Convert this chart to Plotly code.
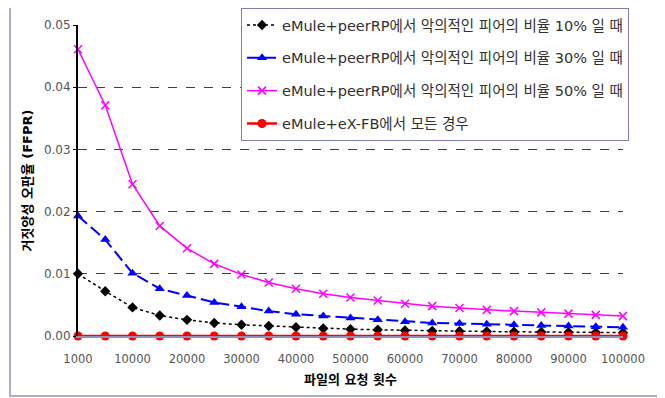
import plotly.graph_objects as go

requests = ["1000", "5000", "10000", "15000", "20000", "25000", "30000", "35000",
            "40000", "45000", "50000", "55000", "60000", "65000", "70000", "75000",
            "80000", "85000", "90000", "95000", "100000"]
tick_labels = ["1000", "10000", "20000", "30000", "40000", "50000",
               "60000", "70000", "80000", "90000", "100000"]

names = [
    "eMule+peerRP에서 악의적인 피어의 비율 10% 일 때",
    "eMule+peerRP에서 악의적인 피어의 비율 30% 일 때",
    "eMule+peerRP에서 악의적인 피어의 비율 50% 일 때",
    "eMule+eX-FB에서 모든 경우",
]
ffpr_10 = [0.0100, 0.0072, 0.0046, 0.0033, 0.0026, 0.0021, 0.0018, 0.0016,
           0.0014, 0.0012, 0.0011, 0.0010, 0.0009, 0.00082, 0.00077, 0.00072,
           0.00068, 0.00064, 0.00060, 0.00057, 0.00054]
ffpr_30 = [0.0193, 0.0155, 0.0101, 0.0076, 0.0065, 0.0054, 0.0047, 0.0040,
           0.0035, 0.0032, 0.0029, 0.0026, 0.0023, 0.0021, 0.0020, 0.0019,
           0.0018, 0.0017, 0.0016, 0.0015, 0.0014]
ffpr_50 = [0.0461, 0.0371, 0.0244, 0.0177, 0.0141, 0.0116, 0.0099, 0.0086,
           0.0076, 0.0068, 0.0062, 0.0057, 0.0052, 0.0048, 0.0045, 0.0042,
           0.0040, 0.0038, 0.0036, 0.0034, 0.0032]
ffpr_exfb = [0.0] * 21

series = [ffpr_10, ffpr_30, ffpr_50, ffpr_exfb]
styles = [
    dict(color="#000000", dash="dot", symbol="diamond", size=8, width=1.5),
    dict(color="#0000ff", dash="12px,5px", symbol="triangle-up", size=9, width=2),
    dict(color="#ff00ff", dash="solid", symbol="x-thin", size=8, width=1.5),
    dict(color="#ff0000", dash="solid", symbol="circle", size=9, width=2.5),
]

font_family = "DejaVu Sans, Noto Sans CJK KR, sans-serif"

fig = go.Figure()
for i, (name, vals, st) in enumerate(zip(names, series, styles)):
    marker = dict(symbol=st["symbol"], size=st["size"], color=st["color"])
    if st["symbol"] == "x-thin":
        marker["line"] = dict(color=st["color"], width=1.5)
    fig.add_trace(go.Scatter(
        x=requests, y=vals, name=name, mode="lines+markers",
        line=dict(color=st["color"], dash=st["dash"], width=st["width"]),
        marker=marker, cliponaxis=False, legendgroup=f"g{i}",
    ))

# page body has an 8px margin; figure is sized/offset to compensate
OFF = 8
W, H = 665 - OFF, 398 - OFF
L, R, T, B = 78 - OFF, 42, 25 - OFF, 62
pw, ph = W - L - R, H - T - B

def px_x(p):
    return (p - OFF - L) / pw

def px_y(p):
    return (H - B - (p - OFF)) / ph

fig.add_shape(type="rect", xref="paper", yref="paper",
              x0=px_x(10), x1=px_x(659), y0=px_y(396), y1=px_y(6),
              line=dict(color="#9494c0", width=1.5), fillcolor="rgba(0,0,0,0)",
              layer="below")

fig.update_layout(
    width=W, height=H,
    margin=dict(l=L, r=R, t=T, b=B, autoexpand=False),
    paper_bgcolor="white", plot_bgcolor="white",
    font=dict(family=font_family, size=12, color="#000000"),
    showlegend=True,
    legend=dict(
        x=px_x(629), xanchor="right", y=px_y(8), yanchor="top",
        bgcolor="white", bordercolor="#8080b0", borderwidth=1,
        font=dict(size=14.5, color="#303030"),
        tracegroupgap=11, traceorder="grouped",
    ),
    xaxis=dict(
        type="category", range=[0, 20],
        tickmode="array", tickvals=tick_labels, ticktext=tick_labels,
        showgrid=False, zeroline=False,
        showline=True, linecolor="#9090b8", linewidth=2,
        ticks="", ticklabelstandoff=11, tickfont=dict(size=11.5, color="#555555"),
        title=dict(text="<b>파일의 요청 횟수</b>", font=dict(size=13, color="#000000"), standoff=10),
    ),
    yaxis=dict(
        range=[0, 0.05], tickmode="array",
        tickvals=[0, 0.01, 0.02, 0.03, 0.04, 0.05],
        ticktext=["0.00", "0.01", "0.02", "0.03", "0.04", "0.05"],
        showgrid=True, gridcolor="#404040", griddash="dash", gridwidth=1,
        zeroline=False, showline=True, linecolor="#000000", linewidth=2,
        ticks="outside", ticklen=3, tickcolor="#000000",
        tickfont=dict(size=12, color="#555555"),
        title=dict(text="<b>거짓양성 오판율 (FFPR)</b>", font=dict(size=13, color="#000000"), standoff=8),
    ),
)

fig.write_html("out.html")
